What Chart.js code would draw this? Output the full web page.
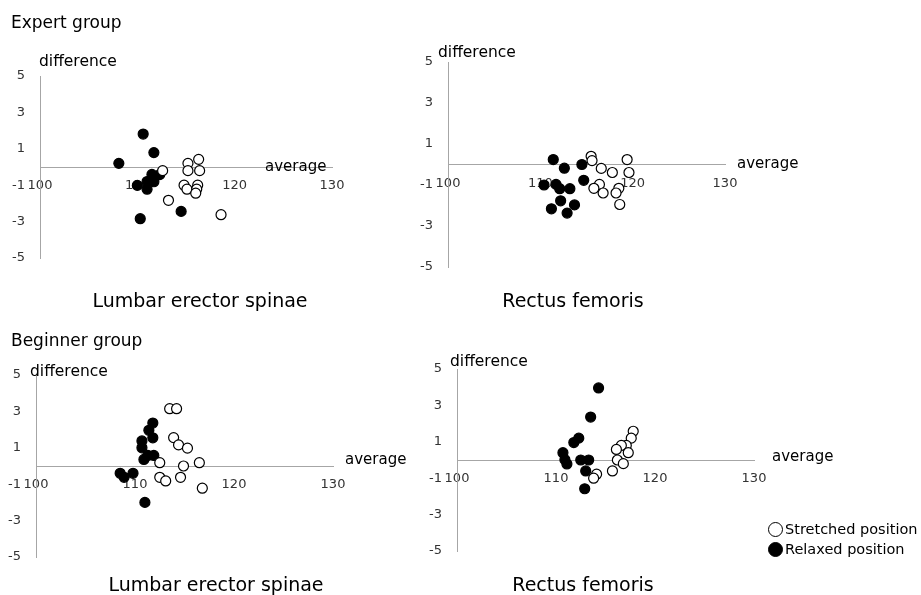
<!DOCTYPE html>
<html>
<head>
<meta charset="utf-8">
<script src="https://cdn.jsdelivr.net/npm/chart.js@4"></script>
<style>
  html, body { margin: 0; padding: 0; background: #ffffff; }
  #wrap { position: relative; width: 921px; height: 595px; overflow: hidden; font-family: "DejaVu Sans", sans-serif; color: #000; }
  #wrap canvas { position: absolute; left: 0; top: 0; }
  .t { position: absolute; white-space: nowrap; line-height: 1; }
  .grp { font-size: 17px; }
  .lbl { font-size: 19px; transform: translateX(-50%); }
  .dif { font-size: 15.5px; }
  .avg { font-size: 15px; }
  .leg { font-size: 14.5px; }
  .dot { position: absolute; width: 13px; height: 13px; border-radius: 50%; border: 1.2px solid #000; }
</style>
</head>
<body>
<div id="wrap">
  <canvas id="c1" width="921" height="595"></canvas>
  <canvas id="c2" width="921" height="595"></canvas>
  <canvas id="c3" width="921" height="595"></canvas>
  <canvas id="c4" width="921" height="595"></canvas>

  <div class="t grp" style="left:11px; top:14px;">Expert group</div>
  <div class="t grp" style="left:11px; top:332px;">Beginner group</div>

  <div class="t lbl" style="left:200px; top:290.6px;">Lumbar erector spinae</div>
  <div class="t lbl" style="left:573px; top:290.6px;">Rectus femoris</div>
  <div class="t lbl" style="left:216px; top:575.2px;">Lumbar erector spinae</div>
  <div class="t lbl" style="left:583px; top:575.2px;">Rectus femoris</div>

  <div class="t dif" style="left:39px; top:53.5px;">difference</div>
  <div class="t dif" style="left:438px; top:45px;">difference</div>
  <div class="t dif" style="left:30px; top:363.5px;">difference</div>
  <div class="t dif" style="left:450px; top:353.5px;">difference</div>

  <div class="t avg" style="left:265px; top:159px;">average</div>
  <div class="t avg" style="left:737px; top:155.6px;">average</div>
  <div class="t avg" style="left:345px; top:452.3px;">average</div>
  <div class="t avg" style="left:772px; top:449px;">average</div>

  <div class="dot" style="left:768px; top:522px; background:#fff;"></div>
  <div class="t leg" style="left:785px; top:522px;">Stretched position</div>
  <div class="dot" style="left:768px; top:542px; background:#000;"></div>
  <div class="t leg" style="left:785px; top:542px;">Relaxed position</div>
</div>

<script>
// ---- tick labels ----
const xTickValues = [100, 110, 120, 130];
const yTickValues = [-5, -3, -1, 1, 3, 5];

// ---- Expert group, Lumbar erector spinae ----
const expLumbarStretchedX = [112.6, 115.2, 115.2, 116.3, 116.4, 114.8, 115.1, 116.2, 116.1, 116.0, 113.2, 118.6];
const expLumbarStretchedY = [-0.2, 0.2, -0.2, 0.42, -0.2, -1.0, -1.22, -1.0, -1.22, -1.44, -1.83, -2.62];
const expLumbarRelaxedX = [108.1, 110.6, 111.7, 110.0, 111.0, 111.0, 111.5, 111.7, 112.3, 110.3, 114.5];
const expLumbarRelaxedY = [0.2, 1.81, 0.79, -1.01, -1.22, -0.8, -0.41, -0.81, -0.42, -2.84, -2.44];

// ---- Expert group, Rectus femoris ----
const expRectusStretchedX = [115.5, 115.6, 116.6, 117.8, 119.4, 119.6, 116.4, 115.8, 116.8, 118.5, 118.2, 118.6];
const expRectusStretchedY = [0.4, 0.19, -0.19, -0.39, 0.24, -0.39, -0.97, -1.16, -1.39, -1.16, -1.39, -1.95];
const expRectusRelaxedX = [111.4, 112.6, 114.5, 110.4, 111.7, 112.1, 113.2, 114.7, 112.2, 111.2, 113.7, 112.9];
const expRectusRelaxedY = [0.24, -0.18, 0.0, -1.0, -0.97, -1.18, -1.18, -0.77, -1.77, -2.16, -1.97, -2.37];

// ---- Beginner group, Lumbar erector spinae ----
const begLumbarStretchedX = [113.5, 114.2, 113.9, 114.4, 115.3, 112.5, 116.5, 114.9, 112.5, 113.1, 114.6, 116.8];
const begLumbarStretchedY = [3.15, 3.15, 1.56, 1.16, 0.98, 0.18, 0.18, 0.0, -0.62, -0.82, -0.62, -1.22];
const begLumbarRelaxedX = [111.8, 111.4, 111.8, 110.7, 110.7, 111.9, 111.3, 110.9, 108.5, 108.9, 109.8, 111.0];
const begLumbarRelaxedY = [2.36, 1.96, 1.55, 1.38, 1.0, 0.58, 0.58, 0.36, -0.4, -0.62, -0.4, -2.0];

// ---- Beginner group, Rectus femoris ----
const begRectusStretchedX = [117.8, 117.6, 117.1, 116.6, 116.1, 117.3, 116.2, 116.8, 115.7, 114.1, 113.8];
const begRectusStretchedY = [1.58, 1.2, 0.8, 0.8, 0.58, 0.4, 0.0, -0.2, -0.6, -0.78, -1.0];
const begRectusRelaxedX = [114.3, 113.5, 112.3, 111.8, 110.7, 110.9, 111.1, 112.5, 113.3, 113.0, 112.9];
const begRectusRelaxedY = [3.96, 2.36, 1.2, 0.96, 0.4, 0.02, -0.22, 0.0, 0.0, -0.6, -1.58];

const seriesNames = ['Stretched position', 'Relaxed position'];

function pts(xs, ys) { return xs.map((x, i) => ({ x: x, y: ys[i] })); }

const W = 921, H = 595;
const axisColor = '#a6a6a6';
const tickFont = { family: 'DejaVu Sans', size: 13 };
const tickColor = '#333333';

function makePanel(id, area, sX, sY, rX, rY) {
  return new Chart(document.getElementById(id), {
    type: 'scatter',
    data: {
      datasets: [
        { label: seriesNames[0], data: pts(sX, sY), pointStyle: 'circle', pointRadius: 5, pointHoverRadius: 5,
          backgroundColor: '#ffffff', borderColor: '#000000', borderWidth: 1.2 },
        { label: seriesNames[1], data: pts(rX, rY), pointStyle: 'circle', pointRadius: 5, pointHoverRadius: 5,
          backgroundColor: '#000000', borderColor: '#000000', borderWidth: 1.2 }
      ]
    },
    options: {
      responsive: false,
      animation: false,
      events: [],
      layout: { padding: { left: 0, top: area.t, right: W - area.r, bottom: H - area.b } },
      plugins: { legend: { display: false }, tooltip: { enabled: false }, title: { display: false } },
      scales: {
        x: {
          type: 'linear', position: { y: 0 }, min: 100, max: 130,
          afterBuildTicks: (s) => { s.ticks = xTickValues.map(v => ({ value: v })); },
          ticks: { font: tickFont, color: tickColor, padding: 11, maxRotation: 0, autoSkip: false },
          grid: { display: false, drawTicks: false },
          border: { display: true, color: axisColor, width: 1 }
        },
        y: {
          type: 'linear', position: 'left', min: -5, max: 5,
          afterBuildTicks: (s) => { s.ticks = yTickValues.map(v => ({ value: v })); },
          afterFit: (s) => { s.width = area.l; },
          ticks: { font: tickFont, color: tickColor, padding: 15, autoSkip: false },
          grid: { display: false, drawTicks: false },
          border: { display: true, color: axisColor, width: 1 }
        }
      }
    }
  });
}

makePanel('c1', { l: 40, r: 332, t: 76, b: 258 }, expLumbarStretchedX, expLumbarStretchedY, expLumbarRelaxedX, expLumbarRelaxedY);
makePanel('c2', { l: 448, r: 725, t: 62, b: 267 }, expRectusStretchedX, expRectusStretchedY, expRectusRelaxedX, expRectusRelaxedY);
makePanel('c3', { l: 36, r: 333, t: 375, b: 557 }, begLumbarStretchedX, begLumbarStretchedY, begLumbarRelaxedX, begLumbarRelaxedY);
makePanel('c4', { l: 457, r: 754, t: 369, b: 551 }, begRectusStretchedX, begRectusStretchedY, begRectusRelaxedX, begRectusRelaxedY);
</script>
</body>
</html>
